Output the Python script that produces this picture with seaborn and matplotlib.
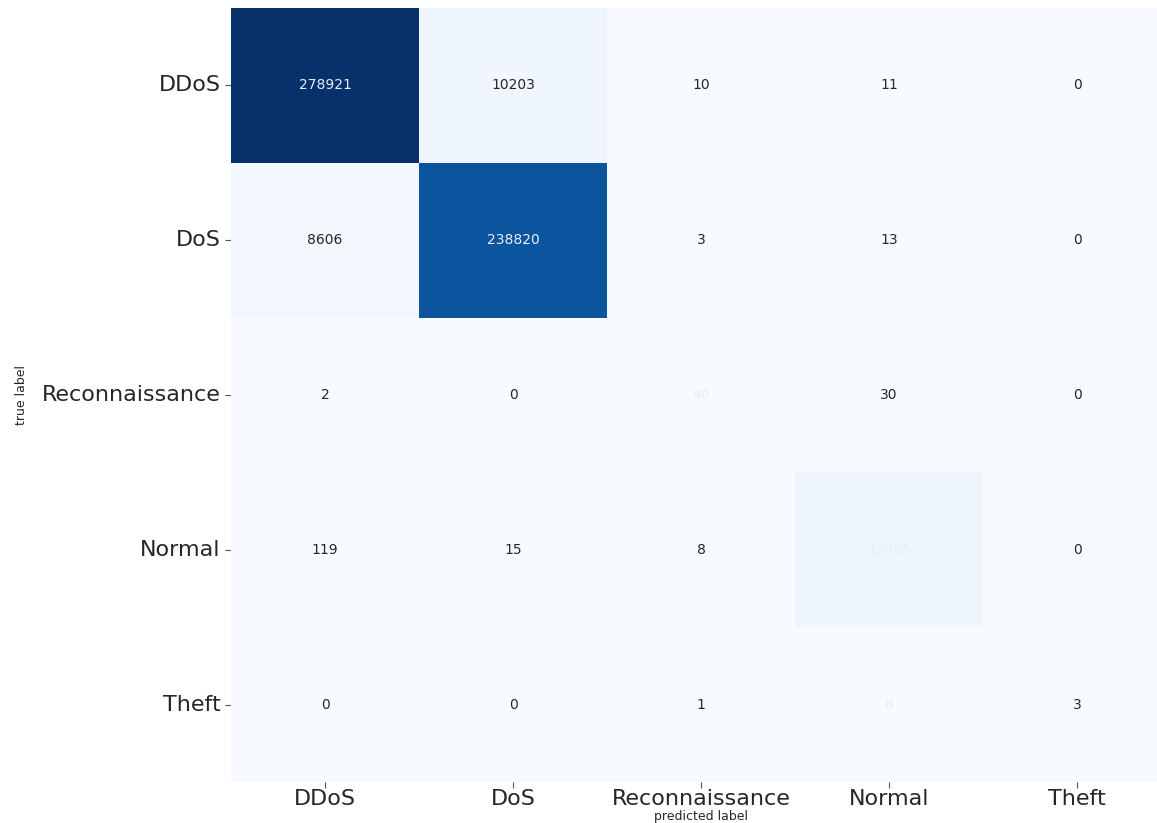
import numpy as np
import pandas as pd
import matplotlib
matplotlib.use("Agg")
import matplotlib.pyplot as plt
import seaborn as sns

labels = ["DDoS", "DoS", "Reconnaissance", "Normal", "Theft"]
row_ddos = [278921, 10203, 10, 11, 0]
row_dos = [8606, 238820, 3, 13, 0]
row_recon = [2, 0, 40, 30, 0]
row_normal = [119, 15, 8, 13455, 0]
row_theft = [0, 0, 1, 8, 3]

cm = pd.DataFrame([row_ddos, row_dos, row_recon, row_normal, row_theft],
                  index=labels, columns=labels)

sns.set_style("white")
plt.rcParams['font.family'] = ['DejaVu Sans']

fig = plt.figure(figsize=(11.57, 8.23), dpi=100)
ax = fig.add_axes([231 / 1157, 41 / 823, 940 / 1157, 774 / 823])

sns.heatmap(cm, ax=ax, cmap="Blues", annot=True, fmt="d", cbar=False,
            annot_kws={"fontsize": 10}, vmin=0)

white_cells = {(0, 0), (1, 1), (2, 2), (3, 3), (4, 3)}
n = len(labels)
for k, t in enumerate(ax.texts):
    i, j = divmod(k, n)
    t.set_color("#e8eef7" if (i, j) in white_cells else "#262626")

ax.tick_params(axis="both", which="both", length=4, width=0.8, bottom=True, left=True,
               color="#555555", labelsize=16)
ax.tick_params(axis="x", pad=1)
ax.set_yticklabels(labels, rotation=0, fontsize=16)
ax.set_xticklabels(labels, rotation=0, fontsize=16)
ax.set_xlabel("predicted label", fontsize=9, labelpad=1)
ax.set_ylabel("true label", fontsize=9, labelpad=10)

fig.savefig("out.png", dpi=100)
